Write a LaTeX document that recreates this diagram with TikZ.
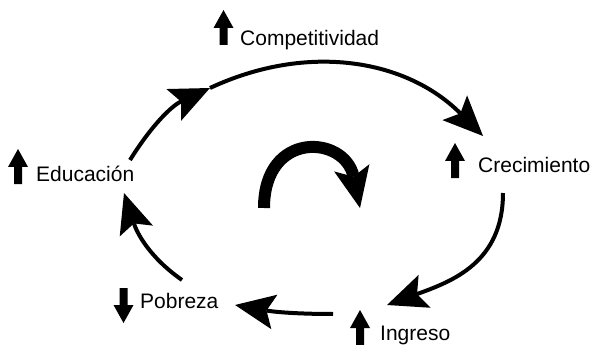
\documentclass[tikz,border=0pt]{standalone}
\usepackage{fontspec}
\setmainfont{Liberation Sans}
\usetikzlibrary{arrows.meta}
\tikzset{
  lbl/.style={inner sep=0pt, anchor=base west, font=\fontsize{21}{24}\selectfont},
  loopline/.style={line width=4pt, -{Stealth[length=40pt,width=35pt,inset=8pt,line width=0pt]}},
  turnline/.style={line width=12pt, -{Stealth[length=41pt,width=36pt,inset=9pt,line width=0pt]}},
  uparr/.pic={\fill (-4,0) -- (4,0) -- (4,17) -- (10,17) -- (0,35) -- (-10,17) -- (-4,17) -- cycle;},
  downarr/.pic={\fill (-4,0) -- (4,0) -- (4,-17) -- (10,-17) -- (0,-35) -- (-10,-17) -- (-4,-17) -- cycle;}
}
\begin{document}
\begin{tikzpicture}[x=1pt,y=1pt]
\useasboundingbox (0,0) rectangle (590,-345);
% labels
\node[lbl] (comp) at (240,-46) {Competitividad};
\node[lbl] (crec) at (478,-172) {Crecimiento};
\node[lbl] (edu) at (36,-182) {Educación};
\node[lbl] (pob) at (140,-308) {Pobreza};
\node[lbl] (ing) at (380,-340) {Ingreso};
% icons
\pic at (223.5,-45) {uparr};
\pic at (455,-178) {uparr};
\pic at (18,-184) {uparr};
\pic at (360,-345) {uparr};
\pic at (123.5,-288) {downarr};
% loop connector end points
\coordinate (eduS) at (130,-160);
\coordinate (compM) at (210,-88);
\coordinate (crecE) at (483,-136);
\coordinate (crecS) at (503,-193);
\coordinate (ingE) at (387,-305);
\coordinate (ingS) at (333,-314);
\coordinate (pobE) at (235,-305);
\coordinate (pobS) at (182,-280);
\coordinate (eduE) at (124,-193);
\coordinate (turnS) at (264,-208);
\coordinate (turnE) at (360,-208);
% loop
\draw[loopline] (eduS) to[out=58,in=205] (compM);
\draw[loopline] (compM) to[out=25,in=135] (crecE);
\draw[loopline] (crecS) to[out=-90,in=20,looseness=1.1] (ingE);
\draw[loopline] (ingS) to[out=180,in=-10] (pobE);
\draw[loopline] (pobS) to[out=145,in=-72] (eduE);
% central turning arrow
\draw[turnline] (turnS) .. controls (264,-130) and (345,-135) .. (turnE);
\end{tikzpicture}
\end{document}
